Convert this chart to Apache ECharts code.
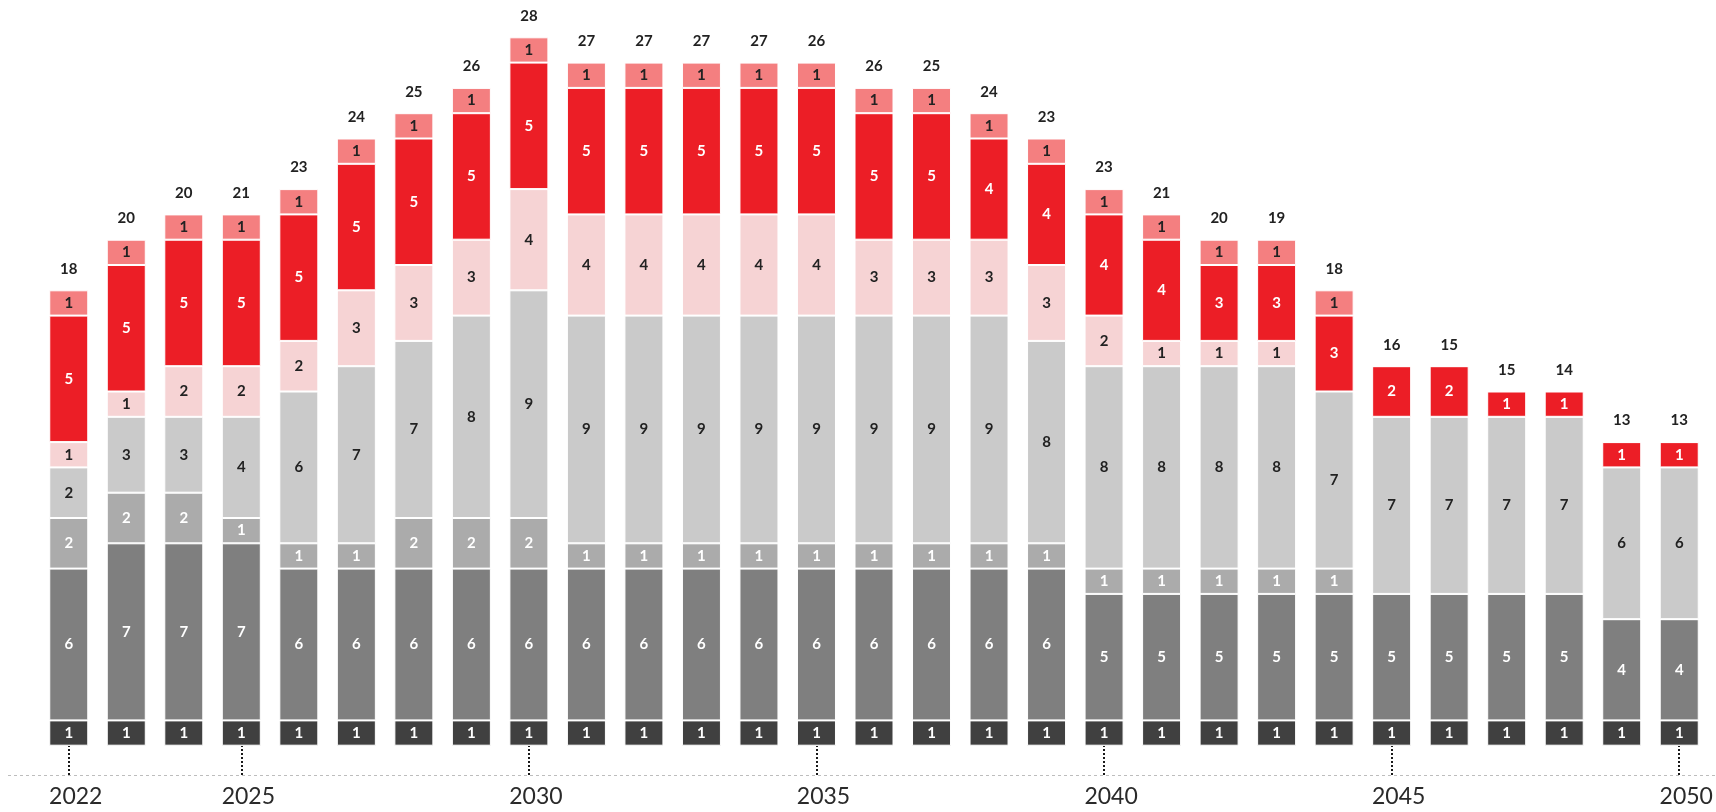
<!DOCTYPE html>
<html>
<head>
<meta charset="utf-8">
<script src="https://cdn.jsdelivr.net/npm/echarts@6/dist/echarts.min.js"></script>
<style>
  html, body { margin: 0; padding: 0; background: #fff; }
  #chart { width: 1716px; height: 812px; }
</style>
</head>
<body>
<div id="chart"></div>
<script>
const years = [];
for (let y = 2022; y <= 2050; y++) years.push(String(y));

// stacked segments, bottom to top
const dark  = [1,1,1,1,1,1,1,1,1,1,1,1,1,1,1,1,1,1,1,1,1,1,1,1,1,1,1,1,1];
const gray  = [6,7,7,7,6,6,6,6,6,6,6,6,6,6,6,6,6,6,5,5,5,5,5,5,5,5,5,4,4];
const mid   = [2,2,2,1,1,1,2,2,2,1,1,1,1,1,1,1,1,1,1,1,1,1,1,0,0,0,0,0,0];
const light = [2,3,3,4,6,7,7,8,9,9,9,9,9,9,9,9,9,8,8,8,8,8,7,7,7,7,7,6,6];
const pale  = [1,1,2,2,2,3,3,3,4,4,4,4,4,4,3,3,3,3,2,1,1,1,0,0,0,0,0,0,0];
const red   = [5,5,5,5,5,5,5,5,5,5,5,5,5,5,5,5,4,4,4,4,3,3,3,2,2,1,1,1,1];
const salmon = [1,1,1,1,1,1,1,1,1,1,1,1,1,1,1,1,1,1,1,1,1,1,1,0,0,0,0,0,0];
const totals = [18,20,20,21,23,24,25,26,28,27,27,27,27,26,26,25,24,23,23,21,20,19,18,16,15,15,14,13,13];

const FONT = 'Lato, "Open Sans", sans-serif';
const showYear = i => i === 0 || (2022 + i) % 5 === 0;

function seg(name, data, color, labelColor) {
  return {
    name: name,
    type: 'bar',
    stack: 'all',
    data: data,
    barWidth: 39,
    itemStyle: { color: color, borderColor: '#fff', borderWidth: 1 },
    label: {
      show: true,
      position: 'inside',
      color: labelColor,
      fontFamily: FONT,
      fontWeight: 'bold',
      fontSize: 15,
      formatter: p => (p.value ? p.value : '')
    },
    silent: true
  };
}

const chart = echarts.init(document.getElementById('chart'));
chart.setOption({
  animation: false,
  grid: { left: 40, right: 8, top: 12, bottom: 66.3 },
  xAxis: {
    type: 'category',
    data: years,
    offset: 29.3,
    z: 5,
    axisLine: { show: true, onZero: false, lineStyle: { color: 'rgba(0,0,0,0)' } },
    axisTick: {
      show: true,
      inside: true,
      length: 29,
      alignWithLabel: true,
      interval: showYear,
      lineStyle: { color: '#000', type: [2, 2], width: 1.8 }
    },
    axisLabel: {
      interval: showYear,
      fontFamily: FONT,
      fontSize: 23,
      color: '#2a2a2a',
      margin: 10,
      padding: [0, 0, 0, 14]
    }
  },
  yAxis: {
    type: 'value',
    min: 0,
    max: 29,
    show: false
  },
  graphic: [{
    type: 'line',
    shape: { x1: 8, y1: 775.5, x2: 1716, y2: 775.5 },
    style: { stroke: '#bdbdbd', lineWidth: 1, lineDash: [3, 3] },
    z: 0
  }],
  series: [
    seg('dark', dark, '#404040', '#fff'),
    seg('gray', gray, '#7f7f7f', '#fff'),
    seg('mid', mid, '#ababab', '#fff'),
    seg('light', light, '#cacaca', '#222'),
    seg('pale', pale, '#f6d3d4', '#222'),
    seg('red', red, '#ec1e26', '#fff'),
    seg('salmon', salmon, '#f47f80', '#222'),
    {
      name: 'total',
      type: 'bar',
      stack: 'all',
      data: totals.map(() => 0),
      barWidth: 39,
      itemStyle: { color: 'transparent' },
      label: {
        show: true,
        position: 'top',
        distance: 14,
        color: '#222',
        fontFamily: FONT,
        fontWeight: 'bold',
        fontSize: 15,
        formatter: p => totals[p.dataIndex]
      },
      silent: true
    }
  ]
});
</script>
</body>
</html>
